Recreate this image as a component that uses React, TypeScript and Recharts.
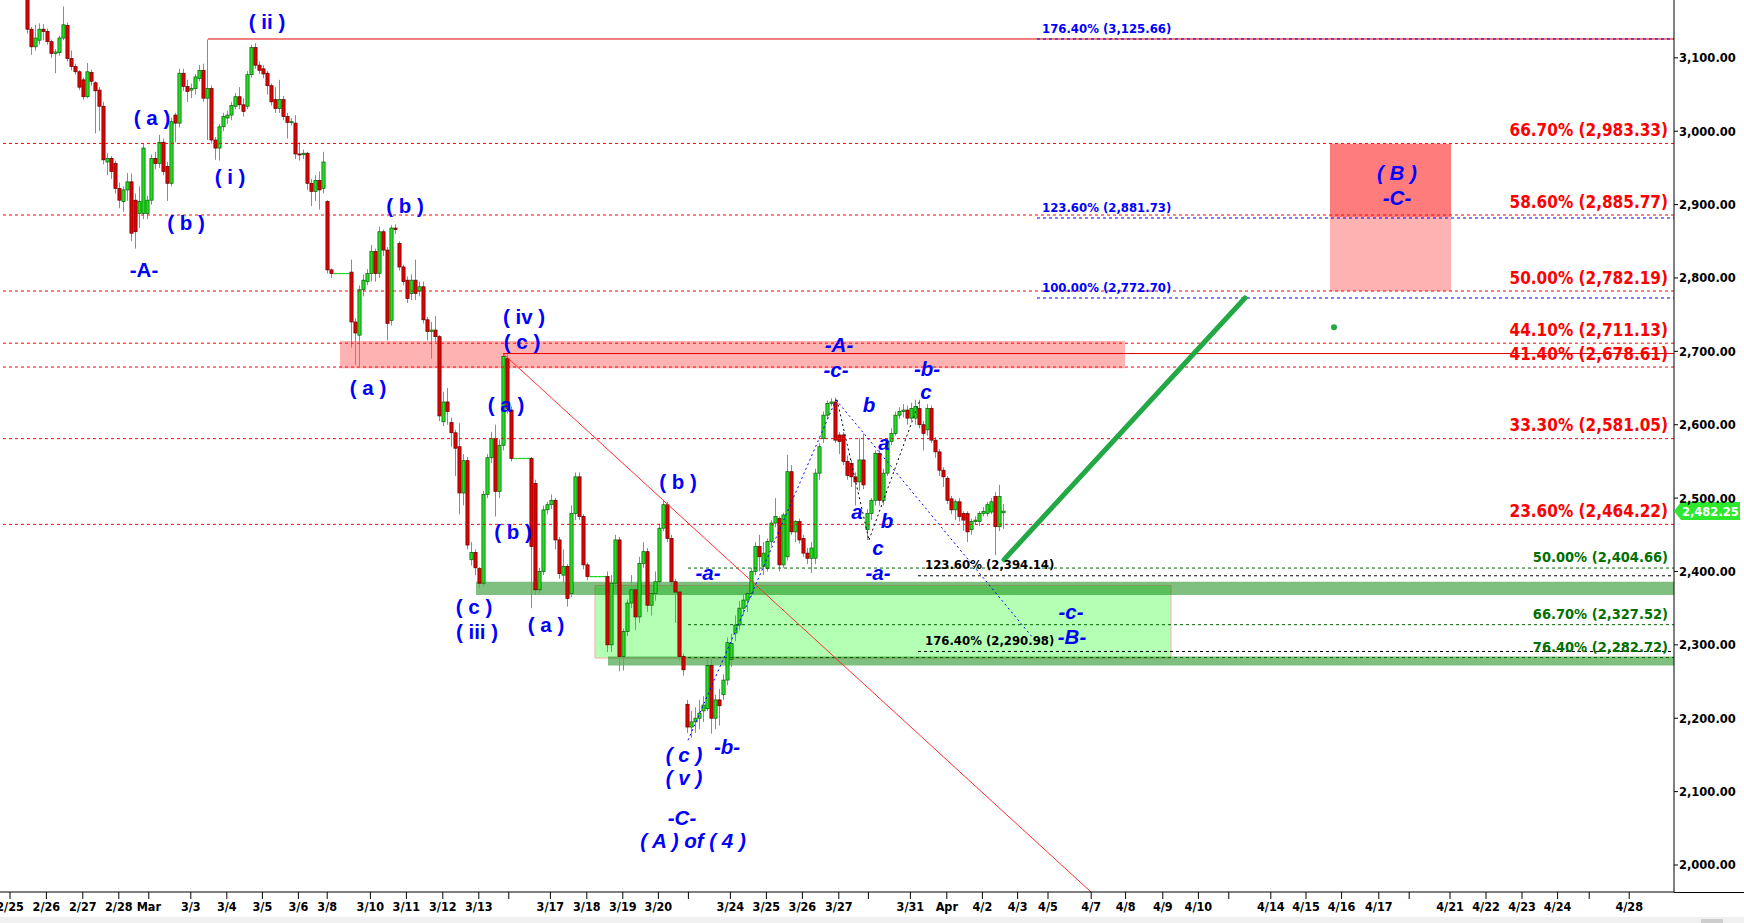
import React from 'react';
import { ComposedChart, Bar, XAxis, YAxis, ReferenceLine, ReferenceArea, ReferenceDot } from 'recharts';

const ARIAL = "'Liberation Sans', Arial, sans-serif";
const COND = "'DejaVu Sans Condensed', 'DejaVu Sans', sans-serif";
const WIDE = "'DejaVu Sans', Verdana, sans-serif";

const X_MAX = 418.5;
const Y_MIN = 1963.2;
const Y_MAX = 3178.8;
const FIRST_BAR = 7;

// candles as [open, high, low, close]
const lateFeb = [
  [3185, 3195, 3133, 3139], [3139, 3142, 3104, 3115], [3115, 3145, 3110, 3127], [3124, 3147, 3118, 3139], [3139, 3146, 3124, 3136],
  [3136, 3140, 3118, 3122], [3122, 3125, 3100, 3106], [3106, 3112, 3079, 3108], [3107, 3130, 3103, 3127], [3127, 3170, 3124, 3145],
  [3144, 3148, 3095, 3099], [3099, 3110, 3083, 3088], [3088, 3092, 3077, 3081], [3081, 3083, 3056, 3060], [3070, 3073, 3043, 3047],
  [3047, 3093, 3045, 3081], [3080, 3084, 3062, 3068], [3066, 3068, 2997, 3055], [3056, 3060, 3000, 3034], [3034, 3040, 2955, 2961],
  [2958, 2970, 2940, 2963], [2963, 2966, 2935, 2945], [2956, 2960, 2915, 2922], [2922, 2930, 2895, 2906], [2904, 2925, 2890, 2920],
  [2920, 2943, 2905, 2931], [2931, 2942, 2850, 2861], [2906, 2915, 2840, 2863], [2888, 2925, 2868, 2904], [2888, 2983, 2880, 2977],
];
const earlyMar = [
  [2888, 2912, 2880, 2906], [2906, 2968, 2900, 2963], [2963, 2972, 2948, 2956], [2956, 2995, 2950, 2985], [2985, 2990, 2940, 2945],
  [2952, 2958, 2905, 2929], [2929, 3018, 2925, 3013], [3022, 3025, 2985, 3011], [3011, 3085, 3005, 3079], [3079, 3085, 3055, 3061],
  [3061, 3070, 3040, 3054], [3056, 3065, 3045, 3058], [3058, 3078, 3050, 3074], [3072, 3090, 3068, 3083], [3083, 3092, 3040, 3045],
  [3045, 3125, 2988, 3058], [3058, 3062, 2983, 2988], [2988, 2992, 2961, 2977], [2977, 3010, 2960, 3006], [3006, 3025, 3000, 3020],
  [3018, 3028, 3010, 3022], [3022, 3040, 3015, 3035], [3034, 3052, 3030, 3047], [3047, 3060, 3030, 3036], [3036, 3045, 3020, 3027],
  [3034, 3082, 3030, 3077], [3077, 3118, 3073, 3114], [3114, 3120, 3085, 3090], [3090, 3095, 3078, 3083], [3085, 3090, 3072, 3078],
  [3079, 3082, 3050, 3062], [3062, 3065, 3035, 3040], [3043, 3060, 3025, 3031], [3031, 3070, 3025, 3043], [3043, 3048, 3015, 3020],
  [3020, 3025, 2990, 3012], [3012, 3018, 3008, 3013], [3011, 3022, 2962, 2969], [2969, 2985, 2960, 2968], [2968, 2975, 2962, 2970],
  [2970, 2972, 2920, 2929], [2929, 2935, 2898, 2918], [2918, 2940, 2905, 2933], [2933, 2945, 2893, 2920], [2922, 2972, 2915, 2958],
];
const midMar = [
  [2904, 2906, 2806, 2811], [2811, 2813, 2800, 2806], [2806, 2806, 2806, 2806], [2806, 2806, 2806, 2806], [2806, 2806, 2806, 2806],
  [2806, 2806, 2806, 2806], [2808, 2825, 2705, 2740], [2740, 2745, 2681, 2725], [2722, 2790, 2680, 2784], [2784, 2805, 2775, 2797],
  [2795, 2812, 2790, 2806], [2806, 2845, 2795, 2836], [2836, 2840, 2795, 2806], [2806, 2870, 2800, 2863], [2863, 2866, 2830, 2838],
  [2838, 2842, 2715, 2738], [2742, 2872, 2735, 2868], [2868, 2873, 2860, 2866], [2847, 2850, 2810, 2815], [2815, 2818, 2790, 2795],
  [2797, 2802, 2766, 2772], [2779, 2805, 2770, 2797], [2797, 2825, 2770, 2779], [2782, 2795, 2775, 2788], [2788, 2795, 2738, 2743],
  [2743, 2747, 2715, 2727], [2727, 2740, 2690, 2729], [2729, 2748, 2712, 2720], [2720, 2722, 2605, 2612], [2604, 2645, 2598, 2631],
  [2631, 2650, 2600, 2618], [2603, 2610, 2570, 2589], [2589, 2593, 2530, 2568], [2570, 2602, 2478, 2507], [2507, 2560, 2490, 2551],
  [2551, 2556, 2430, 2436], [2416, 2440, 2408, 2426], [2426, 2430, 2395, 2405], [2404, 2406, 2378, 2384], [2384, 2510, 2380, 2505],
  [2505, 2560, 2500, 2555], [2555, 2590, 2548, 2581], [2581, 2600, 2475, 2509], [2509, 2580, 2500, 2572],
];
const lateMar = [
  [2572, 2697, 2565, 2693], [2690, 2697, 2615, 2622], [2620, 2625, 2550, 2554], [2554, 2554, 2554, 2554], [2554, 2554, 2554, 2554],
  [2554, 2554, 2554, 2554], [2554, 2554, 2554, 2554], [2554, 2556, 2350, 2434], [2520, 2525, 2368, 2375], [2375, 2405, 2370, 2400],
  [2400, 2490, 2395, 2484], [2484, 2495, 2478, 2491], [2491, 2505, 2485, 2497], [2497, 2500, 2430, 2443], [2443, 2447, 2390, 2397],
  [2395, 2430, 2385, 2407], [2407, 2410, 2352, 2363], [2370, 2490, 2365, 2479], [2479, 2535, 2470, 2529], [2529, 2535, 2470, 2475],
  [2475, 2478, 2403, 2409], [2409, 2412, 2388, 2393], [2393, 2393, 2393, 2393], [2393, 2393, 2393, 2393], [2393, 2393, 2393, 2393],
  [2393, 2393, 2393, 2393], [2393, 2400, 2290, 2300], [2300, 2395, 2290, 2384], [2384, 2450, 2375, 2443], [2443, 2447, 2264, 2284],
  [2284, 2322, 2265, 2318], [2318, 2362, 2312, 2357], [2357, 2395, 2350, 2375], [2375, 2380, 2320, 2338], [2338, 2420, 2330, 2411],
  [2411, 2440, 2405, 2427], [2427, 2432, 2345, 2354], [2354, 2375, 2340, 2370], [2370, 2400, 2360, 2386], [2386, 2465, 2380, 2459],
  [2459, 2497, 2455, 2491], [2491, 2495, 2440, 2445], [2445, 2450, 2380, 2386], [2386, 2390, 2330, 2372], [2372, 2376, 2278, 2284],
  [2284, 2288, 2258, 2266], [2219, 2225, 2180, 2188], [2188, 2210, 2173, 2195], [2195, 2215, 2180, 2200], [2200, 2225, 2185, 2207],
  [2210, 2230, 2195, 2218], [2213, 2280, 2210, 2272], [2272, 2280, 2179, 2200], [2200, 2232, 2185, 2225], [2225, 2240, 2190, 2217],
  [2232, 2260, 2225, 2252], [2252, 2310, 2245, 2303], [2280, 2315, 2270, 2302], [2316, 2340, 2305, 2327], [2327, 2360, 2320, 2350],
  [2350, 2370, 2340, 2361],
];
const endMar = [
  [2361, 2375, 2345, 2370], [2370, 2405, 2365, 2400], [2400, 2440, 2395, 2434], [2434, 2450, 2400, 2420], [2407, 2440, 2395, 2425],
  [2404, 2445, 2400, 2441], [2441, 2470, 2435, 2466], [2466, 2500, 2460, 2475], [2472, 2475, 2400, 2409], [2409, 2480, 2405, 2477],
  [2420, 2559, 2415, 2536], [2536, 2545, 2450, 2454], [2454, 2470, 2440, 2468], [2468, 2472, 2438, 2443], [2445, 2450, 2420, 2425],
  [2425, 2432, 2410, 2418], [2418, 2440, 2398, 2432], [2418, 2540, 2410, 2534], [2534, 2575, 2525, 2570], [2581, 2618, 2575, 2613],
  [2613, 2633, 2608, 2629], [2629, 2636, 2625, 2631], [2631, 2637, 2575, 2579], [2586, 2590, 2560, 2577], [2586, 2590, 2545, 2550],
  [2550, 2558, 2525, 2531], [2547, 2552, 2515, 2529], [2529, 2535, 2490, 2522], [2522, 2582, 2510, 2552], [2552, 2588, 2512, 2518],
  [2457, 2485, 2443, 2479], [2479, 2500, 2470, 2497], [2497, 2565, 2490, 2561], [2561, 2565, 2490, 2497], [2497, 2540, 2490, 2534],
  [2534, 2582, 2530, 2577], [2577, 2595, 2572, 2588], [2588, 2618, 2585, 2613], [2613, 2624, 2608, 2618], [2618, 2628, 2610, 2620],
  [2620, 2626, 2600, 2609], [2609, 2630, 2605, 2622], [2609, 2634, 2600, 2625], [2622, 2634, 2595, 2600], [2600, 2605, 2565, 2588],
  [2593, 2628, 2585, 2622], [2622, 2626, 2575, 2579], [2579, 2583, 2555, 2563], [2563, 2567, 2530, 2538], [2538, 2542, 2515, 2529],
  [2527, 2530, 2492, 2497], [2499, 2503, 2478, 2484], [2484, 2498, 2470, 2495], [2495, 2500, 2468, 2475], [2479, 2482, 2455, 2470],
  [2479, 2482, 2440, 2454], [2457, 2472, 2450, 2468], [2468, 2475, 2463, 2470], [2468, 2482, 2462, 2479], [2479, 2488, 2475, 2482],
  [2479, 2495, 2475, 2491], [2481, 2500, 2478, 2495], [2502, 2508, 2422, 2461], [2461, 2518, 2455, 2502], [2480, 2492, 2458, 2482.25],
];

const tickPos = [2.5, 11.6, 20.7, 29.7, 37.2, 47.7, 56.7, 65.6, 74.6, 81.8, 92.6, 101.6, 110.7, 119.7, 127.2, 137.6, 146.7, 155.7,
  164.6, 172.1, 182.6, 191.6, 200.6, 209.7, 217.1, 227.6, 236.7, 245.6, 254.4, 262, 272.8, 281.4, 290.7, 299.6, 307.2, 317.7,
  326.5, 335.4, 344.7, 352.3, 362.5, 371.5, 380.5, 389.4, 397.3, 407.3];
const tickLabels = ['2/25', '2/26', '2/27', '2/28', 'Mar', '3/3', '3/4', '3/5', '3/6', '3/8', '3/10', '3/11', '3/12', '3/13', '',
  '3/17', '3/18', '3/19', '3/20', '', '3/24', '3/25', '3/26', '3/27', '', '3/31', 'Apr', '4/2', '4/3', '4/5', '4/7', '4/8', '4/9',
  '4/10', '', '4/14', '4/15', '4/16', '4/17', '', '4/21', '4/22', '4/23', '4/24', '', '4/28'];
const priceTicks = [2000, 2100, 2200, 2300, 2400, 2500, 2600, 2700, 2800, 2900, 3000, 3100];

const redFibPct = ['66.70%', '58.60%', '50.00%', '44.10%', '41.40%', '33.30%', '23.60%'];
const redFibVal = [2983.33, 2885.77, 2782.19, 2711.13, 2678.61, 2581.05, 2464.22];
const greenFibPct = ['50.00%', '66.70%', '76.40%'];
const greenFibVal = [2404.66, 2327.52, 2282.72];
const blueExtPct = ['176.40%', '123.60%', '100.00%'];
const blueExtVal = [3125.66, 2881.73, 2772.7];
const blackExtPct = ['123.60%', '176.40%'];
const blackExtVal = [2394.14, 2290.98];
const lastClose = 2482.25;

// wave labels: text, bar index, price, italic
const waveLabels: [string, number, number, boolean][] = [
  ['( ii )', 66.75, 3149, false], ['( a )', 38, 3019, false], ['( i )', 57.5, 2938, false], ['( b )', 46.5, 2876, false],
  ['-A-', 36, 2811, false], ['( b )', 101.25, 2899, false], ['( a )', 92, 2651, false], ['( iv )', 131, 2747, false],
  ['( c )', 130.5, 2713, false], ['( a )', 126.5, 2627, false], ['( b )', 128.25, 2455, false], ['( c )', 118.5, 2352, false],
  ['( iii )', 119.25, 2318, false], ['( a )', 136.5, 2328, false], ['( b )', 169.5, 2523, false], ['-a-', 177, 2399, true],
  ['( c )', 171, 2151, true], ['( v )', 171, 2119, true], ['-b-', 181.75, 2162, true], ['-C-', 170.5, 2065, true],
  ['( A ) of ( 4 )', 173.25, 2033, true], ['-A-', 209.75, 2709, true], ['-c-', 209, 2675, true], ['-b-', 231.75, 2677, true],
  ['c', 231.5, 2645, true], ['b', 217.25, 2627, true], ['a', 221, 2576, true], ['a', 214.25, 2482, true],
  ['b', 221.75, 2470, true], ['c', 219.5, 2433, true], ['-a-', 219.5, 2398, true], ['-c-', 267.75, 2346, true],
  ['-B-', 268, 2312, true], ['( B )', 349.25, 2944, true], ['-C-', 349.25, 2910, true],
];

// wave path points (bar index, price)
const bluePath = [[172, 2170], [209, 2634], [258, 2311]];
const blackPath = [[209.25, 2634], [217.25, 2443], [230, 2634]];
const projection = [[251, 2416], [311.25, 2772.7]];

const candles = [...lateFeb, ...earlyMar, ...midMar, ...lateMar, ...endMar].map(([o, h, l, c], k) => ({
  i: FIRST_BAR + k, o, h, l, c, range: [l, h],
}));

const fmt = (v: number) => v.toLocaleString('en-US', { minimumFractionDigits: 2, maximumFractionDigits: 2 });

const Candle = (props: any) => {
  const { x, y, width, height, payload } = props;
  if (x == null || y == null || !payload) return null;
  const { o, h, l, c } = payload;
  const cx = x + width / 2;
  const span = h - l;
  if (span <= 0) {
    return <line x1={cx - 2} x2={cx + 2} y1={y} y2={y} stroke="#19d219" strokeWidth={1.2} />;
  }
  const py = (v: number) => y + ((h - v) / span) * height;
  const up = c >= o;
  const top = py(Math.max(o, c));
  const bot = py(Math.min(o, c));
  return (
    <g>
      <line x1={cx} x2={cx} y1={y} y2={y + height} stroke="#8c8c8c" strokeWidth={1} />
      <rect x={cx - 1.6} y={top} width={3.2} height={Math.max(bot - top, 1)}
        fill={up ? '#22dd22' : '#e40000'} stroke={up ? '#0a5a0a' : '#5a0000'} strokeWidth={0.7} />
    </g>
  );
};

const XTick = (p: any) => {
  const idx = tickPos.indexOf(p.payload.value);
  return (
    <text x={p.x} y={p.y + 10} textAnchor="middle" fontFamily={COND} fontWeight={700} fontSize={12.5}
      fill="#000">{tickLabels[idx]}</text>
  );
};

const YTick = (p: any) => (
  <text x={p.x} y={p.y + 4.5} textAnchor="start" fontFamily={WIDE} fontWeight={700} fontSize={11.5}
    fill="#000">{fmt(p.payload.value)}</text>
);

const textShape = (txt: string, color: string, size: number, anchor: string, dy: number) => (p: any) => (
  <text x={p.cx} y={p.cy - dy} textAnchor={anchor} fontFamily={COND} fontWeight={700} fontSize={size}
    fill={color}>{txt}</text>
);

const waveShape = (txt: string, italic: boolean) => (p: any) => (
  <text x={p.cx} y={p.cy} textAnchor="middle" dominantBaseline="central" fontFamily={ARIAL} fontWeight={700}
    fontStyle={italic ? 'italic' : 'normal'} fontSize={20.5} fill="#0000ff">{txt}</text>
);

const priceTag = (p: any) => (
  <g>
    <polygon points={`${p.cx},${p.cy} ${p.cx + 7},${p.cy - 9} ${p.cx + 66},${p.cy - 9} ${p.cx + 66},${p.cy + 9} ${p.cx + 7},${p.cy + 9}`}
      fill="#2ee82e" />
    <text x={p.cx + 8} y={p.cy + 4.5} fontFamily={WIDE} fontWeight={700} fontSize={11.5} fill="#fff">
      {fmt(lastClose)}
    </text>
  </g>
);

export default function App() {
  return (
    <div style={{ position: 'absolute', left: 0, top: 0, width: 1744, height: 923, background: '#fff', overflow: 'hidden' }}>
      <ComposedChart width={1744} height={917} data={candles} margin={{ top: 0, right: 0, bottom: 0, left: 0 }}>
        <XAxis dataKey="i" type="number" domain={[0, X_MAX]} allowDataOverflow ticks={tickPos} interval={0} height={25}
          tickSize={7} tickMargin={2} tick={XTick} axisLine={{ stroke: '#000' }} tickLine={{ stroke: '#000' }} />
        <YAxis orientation="right" type="number" domain={[Y_MIN, Y_MAX]} allowDataOverflow ticks={priceTicks} width={70}
          tickSize={4} tickMargin={1} tick={YTick} axisLine={{ stroke: '#000' }} tickLine={{ stroke: '#000' }} />

        <ReferenceArea x1={148.75} x2={292.75} y1={2282} y2={2381} fill="#b3ffb3" fillOpacity={1} stroke="#ffaaaa" strokeWidth={1} ifOverflow="hidden" />
        <ReferenceArea x1={85} x2={281.25} y1={2677} y2={2714} fill="#ff0000" fillOpacity={0.3} stroke="none" ifOverflow="hidden" />
        <ReferenceArea x1={332.5} x2={362.75} y1={2782} y2={2983} fill="#ff0000" fillOpacity={0.3} stroke="none" ifOverflow="hidden" />
        <ReferenceArea x1={332.5} x2={362.75} y1={2883} y2={2983} fill="#ff0000" fillOpacity={0.3} stroke="none" ifOverflow="hidden" />

        {redFibVal.map((v, k) => (
          <ReferenceLine key={`rf${k}`} y={v} stroke="#ff0000" strokeDasharray="3 3" strokeWidth={1} ifOverflow="hidden" />
        ))}
        {greenFibVal.map((v, k) => (
          <ReferenceLine key={`gf${k}`} segment={[{ x: 172, y: v }, { x: X_MAX, y: v }]} stroke="#006400" strokeDasharray="3 3" ifOverflow="hidden" />
        ))}
        {blackExtVal.map((v, k) => (
          <ReferenceLine key={`bk${k}`} segment={[{ x: 229.5, y: v }, { x: X_MAX, y: v }]} stroke="#000" strokeDasharray="3 3" ifOverflow="hidden" />
        ))}
        <ReferenceLine segment={[{ x: 52, y: blueExtVal[0] }, { x: X_MAX, y: blueExtVal[0] }]} stroke="#e00000" strokeWidth={1} ifOverflow="hidden" />
        <ReferenceLine segment={[{ x: 125.75, y: 2697 }, { x: X_MAX, y: 2697 }]} stroke="#e00000" strokeWidth={1} ifOverflow="hidden" />
        <ReferenceLine segment={[{ x: 125.75, y: 2697 }, { x: 272.75, y: Y_MIN }]} stroke="#ff3030" strokeWidth={1} ifOverflow="hidden" />
        {blueExtVal.map((v, k) => (
          <ReferenceLine key={`be${k}`} segment={[{ x: 259.25, y: v }, { x: X_MAX, y: v }]} stroke="#0000ff" strokeDasharray="3 3" ifOverflow="hidden" />
        ))}

        <ReferenceArea x1={119} x2={X_MAX} y1={2368} y2={2386} fill="#008000" fillOpacity={0.5} stroke="none" ifOverflow="hidden" />
        <ReferenceArea x1={152} x2={X_MAX} y1={2272} y2={2284} fill="#008000" fillOpacity={0.5} stroke="none" ifOverflow="hidden" />

        <Bar dataKey="range" barSize={3} shape={Candle} isAnimationActive={false} />

        {bluePath.slice(1).map((pt, k) => (
          <ReferenceLine key={`bp${k}`} segment={[{ x: bluePath[k][0], y: bluePath[k][1] }, { x: pt[0], y: pt[1] }]}
            stroke="#0000ff" strokeDasharray="2 3" ifOverflow="hidden" />
        ))}
        {blackPath.slice(1).map((pt, k) => (
          <ReferenceLine key={`kp${k}`} segment={[{ x: blackPath[k][0], y: blackPath[k][1] }, { x: pt[0], y: pt[1] }]}
            stroke="#000" strokeDasharray="2 3" ifOverflow="hidden" />
        ))}
        <ReferenceLine segment={[{ x: projection[0][0], y: projection[0][1] }, { x: projection[1][0], y: projection[1][1] }]}
          stroke="#22a845" strokeWidth={5} strokeLinecap="round" ifOverflow="hidden" />
        <ReferenceDot x={333.5} y={2733} r={3} fill="#22a845" stroke="none" />

        {redFibVal.map((v, k) => (
          <ReferenceDot key={`rt${k}`} x={417} y={v} r={0} ifOverflow="visible"
            shape={textShape(`${redFibPct[k]} (${fmt(v)})`, '#ff0000', 17, 'end', 7.5)} />
        ))}
        {greenFibVal.map((v, k) => (
          <ReferenceDot key={`gt${k}`} x={417} y={v} r={0} ifOverflow="visible"
            shape={textShape(`${greenFibPct[k]} (${fmt(v)})`, '#007000', 14.5, 'end', 6)} />
        ))}
        {blueExtVal.map((v, k) => (
          <ReferenceDot key={`bt${k}`} x={260.5} y={v} r={0} ifOverflow="visible"
            shape={textShape(`${blueExtPct[k]} (${fmt(v)})`, '#0000ff', 13, 'start', 6)} />
        ))}
        {blackExtVal.map((v, k) => (
          <ReferenceDot key={`kt${k}`} x={231.25} y={v} r={0} ifOverflow="visible"
            shape={textShape(`${blackExtPct[k]} (${fmt(v)})`, '#000', 13, 'start', 6.5)} />
        ))}
        {waveLabels.map(([t, x, y, it], k) => (
          <ReferenceDot key={`w${k}`} x={x} y={y} r={0} ifOverflow="visible" shape={waveShape(t, it)} />
        ))}
        <ReferenceDot x={X_MAX} y={lastClose} r={0} ifOverflow="visible" shape={priceTag} />
      </ComposedChart>
      <div style={{ position: 'absolute', left: 1674, top: 892, width: 70, height: 1, background: '#000' }} />
      <div style={{ position: 'absolute', left: 0, top: 917, width: 1744, height: 6, background: '#f0f0f0' }} />
      <div style={{ position: 'absolute', left: 1701, top: 919, width: 22, height: 4, background: '#cdcdcd' }} />
    </div>
  );
}
